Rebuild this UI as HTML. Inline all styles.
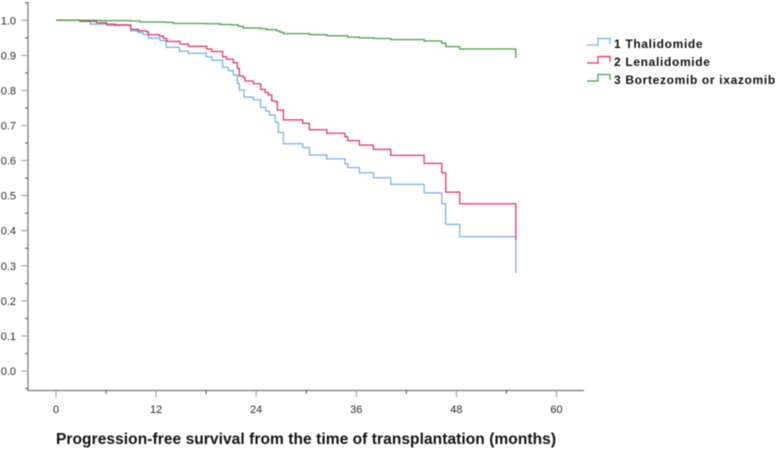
<!DOCTYPE html>
<html lang="en">
<head>
<meta charset="utf-8">
<title>Progression-free survival</title>
<style>
  html, body { margin: 0; padding: 0; background: #fff; }
  #chart { display: block; width: 777px; height: 450px; filter: blur(0.45px); font-family: "Liberation Sans", sans-serif; }
</style>
</head>
<body>
<svg id="chart" xmlns="http://www.w3.org/2000/svg" width="777" height="450" viewBox="0 0 777 450">
  <g id="grid-axes"></g>
  <g id="series"></g>
  <text x="56" y="444" font-size="15.5" font-weight="bold" fill="#111" textLength="500" lengthAdjust="spacing">Progression-free survival from the time of transplantation (months)</text>
  <g id="legend"></g>
</svg>
<script>
const xTicks = [0, 12, 24, 36, 48, 60];
const xMinorTicks = [6, 18, 30, 42, 54];
const yTicks = [0.0, 0.1, 0.2, 0.3, 0.4, 0.5, 0.6, 0.7, 0.8, 0.9, 1.0];
const yMinorTicks = [-0.05, 0.05, 0.15, 0.25, 0.35, 0.45, 0.55, 0.65, 0.75, 0.85, 0.95, 1.05];

const seriesNames = ["1 Thalidomide", "2 Lenalidomide", "3 Bortezomib or ixazomib"];

const thalidomideMonths = [0, 2.88, 4.08, 6.07, 8.95, 9.87, 10.47, 11.07, 12.47, 13.19, 14.79, 15.87, 17.99, 18.66, 19.98, 20.66, 21.26, 21.74, 21.98, 22.54, 23.66, 24.54, 25.14, 25.58, 26.26, 26.66, 27.26, 29.58, 30.38, 32.46, 34.65, 34.97, 36.37, 38.05, 40.13, 44.13, 46.24, 46.72, 48.40, 55.12, 55.12];
const thalidomideSurvival = [1.0, 0.997, 0.989, 0.985, 0.970, 0.965, 0.959, 0.949, 0.942, 0.923, 0.912, 0.906, 0.896, 0.886, 0.866, 0.856, 0.844, 0.820, 0.801, 0.781, 0.773, 0.752, 0.741, 0.730, 0.709, 0.680, 0.648, 0.637, 0.616, 0.605, 0.591, 0.580, 0.565, 0.551, 0.532, 0.508, 0.477, 0.418, 0.383, 0.383, 0.279];

const lenalidomideMonths = [0, 2.88, 4.88, 6.07, 7.07, 8.95, 9.87, 10.87, 11.07, 12.39, 12.87, 13.27, 14.87, 15.87, 18.07, 18.66, 19.98, 20.46, 21.26, 21.74, 21.98, 22.46, 22.66, 23.66, 24.54, 25.06, 25.46, 25.86, 26.38, 26.54, 27.26, 29.58, 30.38, 32.46, 34.65, 34.97, 36.37, 38.05, 40.13, 44.13, 46.24, 46.72, 48.40, 55.12, 55.12];
const lenalidomideSurvival = [1.0, 0.997, 0.993, 0.989, 0.987, 0.974, 0.970, 0.967, 0.959, 0.955, 0.949, 0.940, 0.932, 0.926, 0.918, 0.911, 0.896, 0.889, 0.879, 0.863, 0.841, 0.837, 0.827, 0.819, 0.803, 0.794, 0.787, 0.770, 0.767, 0.744, 0.716, 0.706, 0.688, 0.678, 0.668, 0.657, 0.644, 0.632, 0.615, 0.592, 0.565, 0.510, 0.477, 0.477, 0.374];

const bortezomibMonths = [0, 5.27, 8.87, 10.07, 13.07, 14.07, 18.07, 19.66, 21.06, 21.86, 22.46, 24.46, 25.26, 26.46, 26.86, 27.26, 30.38, 32.46, 34.97, 36.37, 38.05, 40.13, 44.13, 46.24, 46.72, 48.40, 55.12, 55.12];
const bortezomibSurvival = [1.0, 0.999, 0.998, 0.995, 0.994, 0.991, 0.990, 0.988, 0.987, 0.983, 0.978, 0.976, 0.973, 0.970, 0.966, 0.962, 0.959, 0.956, 0.952, 0.950, 0.948, 0.945, 0.941, 0.935, 0.925, 0.918, 0.918, 0.892];

const NS = "http://www.w3.org/2000/svg";
const xScale = function (m) { return 56 + m * (500.5 / 60); };
const yScale = function (s) { return 371 - s * 350.7; };

const axes = document.getElementById("grid-axes");
const seriesGroup = document.getElementById("series");
const legend = document.getElementById("legend");

function makeLine(x1, y1, x2, y2, color, width) {
  const l = document.createElementNS(NS, "line");
  l.setAttribute("x1", x1);
  l.setAttribute("y1", y1);
  l.setAttribute("x2", x2);
  l.setAttribute("y2", y2);
  l.setAttribute("stroke", color);
  l.setAttribute("stroke-width", width);
  return l;
}
function makeText(x, y, str, anchor) {
  const t = document.createElementNS(NS, "text");
  t.setAttribute("x", x);
  t.setAttribute("y", y);
  t.setAttribute("font-size", "11");
  t.setAttribute("fill", "#2a2a2a");
  t.setAttribute("text-anchor", anchor);
  t.textContent = str;
  return t;
}

const yAxisLine = makeLine(28, 2, 28, 391, "#8a8a8a", 1.5);


axes.appendChild(yAxisLine);

const xAxisLine = makeLine(28, 390.5, 584, 390.5, "#8a8a8a", 1.5);


axes.appendChild(xAxisLine);

yTicks.forEach(function (v) {
  const tick = makeLine(21, yScale(v), 28, yScale(v), "#999", 1);
  
  
  axes.appendChild(tick);
  const label = makeText(16, yScale(v) + 4, v.toFixed(1), "end");
  
  
  axes.appendChild(label);
});
yMinorTicks.forEach(function (v) {
  const tick = makeLine(25, yScale(v), 28, yScale(v), "#555", 1);
  
  
  axes.appendChild(tick);
});
xTicks.forEach(function (v) {
  const tick = makeLine(xScale(v), 390, xScale(v), 397, "#999", 1);
  
  
  axes.appendChild(tick);
  const label = makeText(xScale(v), 413, String(v), "middle");
  
  
  axes.appendChild(label);
});
xMinorTicks.forEach(function (v) {
  const tick = makeLine(xScale(v), 390, xScale(v), 394, "#555", 1);
  
  
  axes.appendChild(tick);
});

function stepPoints(months, survival) {
  const pts = [];
  months.forEach(function (m, i) {
    if (i > 0) {
      pts.push(xScale(m).toFixed(2) + "," + yScale(survival[i - 1]).toFixed(2));
    }
    pts.push(xScale(m).toFixed(2) + "," + yScale(survival[i]).toFixed(2));
  });
  return pts.join(" ");
}
function makeCurve(months, survival, color) {
  const p = document.createElementNS(NS, "polyline");
  p.setAttribute("points", stepPoints(months, survival));
  p.setAttribute("fill", "none");
  p.setAttribute("stroke", color);
  p.setAttribute("stroke-width", "1.25");
  return p;
}

const curveThalidomide = makeCurve(thalidomideMonths, thalidomideSurvival, "#74aef5");


seriesGroup.appendChild(curveThalidomide);

const curveLenalidomide = makeCurve(lenalidomideMonths, lenalidomideSurvival, "#e8305c");


seriesGroup.appendChild(curveLenalidomide);

const curveBortezomib = makeCurve(bortezomibMonths, bortezomibSurvival, "#46a046");


seriesGroup.appendChild(curveBortezomib);

const legendColors = ["#74aef5", "#e8305c", "#46a046"];
seriesNames.forEach(function (name, i) {
  const base = 45 + i * 18;
  const sym = document.createElementNS(NS, "polyline");
  sym.setAttribute("points", "587," + base + " 598," + base + " 598," + (base - 6.5) + " 610," + (base - 6.5) + " 610," + (base - 1));
  sym.setAttribute("fill", "none");
  sym.setAttribute("stroke", legendColors[i]);
  sym.setAttribute("stroke-width", "1.25");
  
  
  legend.appendChild(sym);
  const label = document.createElementNS(NS, "text");
  label.setAttribute("x", 614);
  label.setAttribute("y", base + 3);
  label.setAttribute("font-size", "12");
  label.setAttribute("font-weight", "bold");
  label.setAttribute("letter-spacing", "0.66");
  label.setAttribute("fill", "#111");
  label.textContent = name;
  
  
  legend.appendChild(label);
});
</script>
</body>
</html>
